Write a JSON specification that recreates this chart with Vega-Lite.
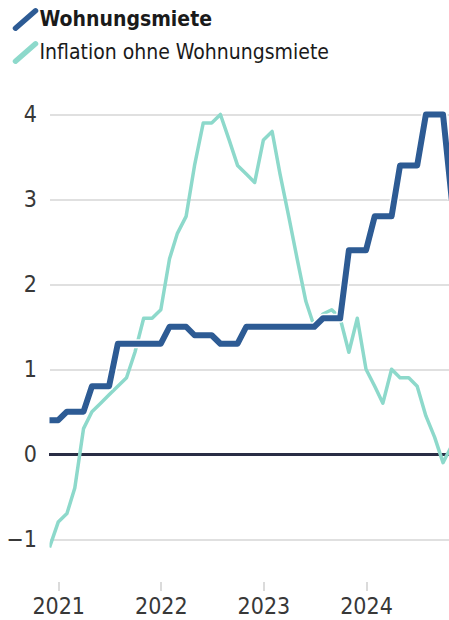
{
  "$schema": "https://vega.github.io/schema/vega-lite/v6.json",
  "width": 400,
  "height": 501,
  "autosize": {"type": "none"},
  "padding": {"left": 49.5, "top": 80.5, "right": 0, "bottom": 38.5},
  "background": "white",
  "config": {
    "view": {"stroke": null},
    "font": "DejaVu Sans Condensed, Roboto, sans-serif",
    "axis": {"labelFont": "DejaVu Sans Condensed, Roboto, sans-serif", "labelColor": "#383838", "domain": false}
  },
  "data": {
    "values": [
      {"date": "2020-12-01", "series": "Wohnungsmiete", "value": 0.4},
      {"date": "2021-01-01", "series": "Wohnungsmiete", "value": 0.4},
      {"date": "2021-02-01", "series": "Wohnungsmiete", "value": 0.5},
      {"date": "2021-03-01", "series": "Wohnungsmiete", "value": 0.5},
      {"date": "2021-04-01", "series": "Wohnungsmiete", "value": 0.5},
      {"date": "2021-05-01", "series": "Wohnungsmiete", "value": 0.8},
      {"date": "2021-06-01", "series": "Wohnungsmiete", "value": 0.8},
      {"date": "2021-07-01", "series": "Wohnungsmiete", "value": 0.8},
      {"date": "2021-08-01", "series": "Wohnungsmiete", "value": 1.3},
      {"date": "2021-09-01", "series": "Wohnungsmiete", "value": 1.3},
      {"date": "2021-10-01", "series": "Wohnungsmiete", "value": 1.3},
      {"date": "2021-11-01", "series": "Wohnungsmiete", "value": 1.3},
      {"date": "2021-12-01", "series": "Wohnungsmiete", "value": 1.3},
      {"date": "2022-01-01", "series": "Wohnungsmiete", "value": 1.3},
      {"date": "2022-02-01", "series": "Wohnungsmiete", "value": 1.5},
      {"date": "2022-03-01", "series": "Wohnungsmiete", "value": 1.5},
      {"date": "2022-04-01", "series": "Wohnungsmiete", "value": 1.5},
      {"date": "2022-05-01", "series": "Wohnungsmiete", "value": 1.4},
      {"date": "2022-06-01", "series": "Wohnungsmiete", "value": 1.4},
      {"date": "2022-07-01", "series": "Wohnungsmiete", "value": 1.4},
      {"date": "2022-08-01", "series": "Wohnungsmiete", "value": 1.3},
      {"date": "2022-09-01", "series": "Wohnungsmiete", "value": 1.3},
      {"date": "2022-10-01", "series": "Wohnungsmiete", "value": 1.3},
      {"date": "2022-11-01", "series": "Wohnungsmiete", "value": 1.5},
      {"date": "2022-12-01", "series": "Wohnungsmiete", "value": 1.5},
      {"date": "2023-01-01", "series": "Wohnungsmiete", "value": 1.5},
      {"date": "2023-02-01", "series": "Wohnungsmiete", "value": 1.5},
      {"date": "2023-03-01", "series": "Wohnungsmiete", "value": 1.5},
      {"date": "2023-04-01", "series": "Wohnungsmiete", "value": 1.5},
      {"date": "2023-05-01", "series": "Wohnungsmiete", "value": 1.5},
      {"date": "2023-06-01", "series": "Wohnungsmiete", "value": 1.5},
      {"date": "2023-07-01", "series": "Wohnungsmiete", "value": 1.5},
      {"date": "2023-08-01", "series": "Wohnungsmiete", "value": 1.6},
      {"date": "2023-09-01", "series": "Wohnungsmiete", "value": 1.6},
      {"date": "2023-10-01", "series": "Wohnungsmiete", "value": 1.6},
      {"date": "2023-11-01", "series": "Wohnungsmiete", "value": 2.4},
      {"date": "2023-12-01", "series": "Wohnungsmiete", "value": 2.4},
      {"date": "2024-01-01", "series": "Wohnungsmiete", "value": 2.4},
      {"date": "2024-02-01", "series": "Wohnungsmiete", "value": 2.8},
      {"date": "2024-03-01", "series": "Wohnungsmiete", "value": 2.8},
      {"date": "2024-04-01", "series": "Wohnungsmiete", "value": 2.8},
      {"date": "2024-05-01", "series": "Wohnungsmiete", "value": 3.4},
      {"date": "2024-06-01", "series": "Wohnungsmiete", "value": 3.4},
      {"date": "2024-07-01", "series": "Wohnungsmiete", "value": 3.4},
      {"date": "2024-08-01", "series": "Wohnungsmiete", "value": 4.0},
      {"date": "2024-09-01", "series": "Wohnungsmiete", "value": 4.0},
      {"date": "2024-10-01", "series": "Wohnungsmiete", "value": 4.0},
      {"date": "2024-11-01", "series": "Wohnungsmiete", "value": 3.0},
      {"date": "2020-12-01", "series": "Inflation ohne Wohnungsmiete", "value": -1.1},
      {"date": "2021-01-01", "series": "Inflation ohne Wohnungsmiete", "value": -0.8},
      {"date": "2021-02-01", "series": "Inflation ohne Wohnungsmiete", "value": -0.7},
      {"date": "2021-03-01", "series": "Inflation ohne Wohnungsmiete", "value": -0.4},
      {"date": "2021-04-01", "series": "Inflation ohne Wohnungsmiete", "value": 0.3},
      {"date": "2021-05-01", "series": "Inflation ohne Wohnungsmiete", "value": 0.5},
      {"date": "2021-06-01", "series": "Inflation ohne Wohnungsmiete", "value": 0.6},
      {"date": "2021-07-01", "series": "Inflation ohne Wohnungsmiete", "value": 0.7},
      {"date": "2021-08-01", "series": "Inflation ohne Wohnungsmiete", "value": 0.8},
      {"date": "2021-09-01", "series": "Inflation ohne Wohnungsmiete", "value": 0.9},
      {"date": "2021-10-01", "series": "Inflation ohne Wohnungsmiete", "value": 1.2},
      {"date": "2021-11-01", "series": "Inflation ohne Wohnungsmiete", "value": 1.6},
      {"date": "2021-12-01", "series": "Inflation ohne Wohnungsmiete", "value": 1.6},
      {"date": "2022-01-01", "series": "Inflation ohne Wohnungsmiete", "value": 1.7},
      {"date": "2022-02-01", "series": "Inflation ohne Wohnungsmiete", "value": 2.3},
      {"date": "2022-03-01", "series": "Inflation ohne Wohnungsmiete", "value": 2.6},
      {"date": "2022-04-01", "series": "Inflation ohne Wohnungsmiete", "value": 2.8},
      {"date": "2022-05-01", "series": "Inflation ohne Wohnungsmiete", "value": 3.4},
      {"date": "2022-06-01", "series": "Inflation ohne Wohnungsmiete", "value": 3.9},
      {"date": "2022-07-01", "series": "Inflation ohne Wohnungsmiete", "value": 3.9},
      {"date": "2022-08-01", "series": "Inflation ohne Wohnungsmiete", "value": 4.0},
      {"date": "2022-09-01", "series": "Inflation ohne Wohnungsmiete", "value": 3.7},
      {"date": "2022-10-01", "series": "Inflation ohne Wohnungsmiete", "value": 3.4},
      {"date": "2022-11-01", "series": "Inflation ohne Wohnungsmiete", "value": 3.3},
      {"date": "2022-12-01", "series": "Inflation ohne Wohnungsmiete", "value": 3.2},
      {"date": "2023-01-01", "series": "Inflation ohne Wohnungsmiete", "value": 3.7},
      {"date": "2023-02-01", "series": "Inflation ohne Wohnungsmiete", "value": 3.8},
      {"date": "2023-03-01", "series": "Inflation ohne Wohnungsmiete", "value": 3.3},
      {"date": "2023-04-01", "series": "Inflation ohne Wohnungsmiete", "value": 2.8},
      {"date": "2023-05-01", "series": "Inflation ohne Wohnungsmiete", "value": 2.3},
      {"date": "2023-06-01", "series": "Inflation ohne Wohnungsmiete", "value": 1.8},
      {"date": "2023-07-01", "series": "Inflation ohne Wohnungsmiete", "value": 1.5},
      {"date": "2023-08-01", "series": "Inflation ohne Wohnungsmiete", "value": 1.65},
      {"date": "2023-09-01", "series": "Inflation ohne Wohnungsmiete", "value": 1.7},
      {"date": "2023-10-01", "series": "Inflation ohne Wohnungsmiete", "value": 1.6},
      {"date": "2023-11-01", "series": "Inflation ohne Wohnungsmiete", "value": 1.2},
      {"date": "2023-12-01", "series": "Inflation ohne Wohnungsmiete", "value": 1.6},
      {"date": "2024-01-01", "series": "Inflation ohne Wohnungsmiete", "value": 1.0},
      {"date": "2024-02-01", "series": "Inflation ohne Wohnungsmiete", "value": 0.8},
      {"date": "2024-03-01", "series": "Inflation ohne Wohnungsmiete", "value": 0.6},
      {"date": "2024-04-01", "series": "Inflation ohne Wohnungsmiete", "value": 1.0},
      {"date": "2024-05-01", "series": "Inflation ohne Wohnungsmiete", "value": 0.9},
      {"date": "2024-06-01", "series": "Inflation ohne Wohnungsmiete", "value": 0.9},
      {"date": "2024-07-01", "series": "Inflation ohne Wohnungsmiete", "value": 0.8},
      {"date": "2024-08-01", "series": "Inflation ohne Wohnungsmiete", "value": 0.45},
      {"date": "2024-09-01", "series": "Inflation ohne Wohnungsmiete", "value": 0.2},
      {"date": "2024-10-01", "series": "Inflation ohne Wohnungsmiete", "value": -0.1},
      {"date": "2024-11-01", "series": "Inflation ohne Wohnungsmiete", "value": 0.1}
    ]
  },
  "encoding": {
    "x": {
      "field": "date",
      "type": "temporal",
      "scale": {"type": "utc", "domain": ["2020-12-01", "2024-10-24"]},
      "axis": {
        "title": null,
        "values": [
          {"year": 2021, "utc": true},
          {"year": 2022, "utc": true},
          {"year": 2023, "utc": true},
          {"year": 2024, "utc": true}
        ],
        "format": "%Y",
        "formatType": "utc",
        "grid": false,
        "ticks": true,
        "tickSize": 9,
        "tickColor": "#cfcfcf",
        "tickWidth": 1.5,
        "labelFontSize": 23,
        "labelPadding": 5,
        "labelFlush": false
      }
    },
    "y": {
      "field": "value",
      "type": "quantitative",
      "scale": {"domain": [-1.5, 4.4], "nice": false, "zero": false},
      "axis": {
        "title": null,
        "values": [-1, 0, 1, 2, 3, 4],
        "grid": true,
        "gridColor": "#d6d6d6",
        "gridWidth": 1.5,
        "ticks": false,
        "labelFontSize": 23,
        "labelPadding": 13
      }
    }
  },
  "layer": [
    {
      "mark": {"type": "rule", "color": "#2a2e45", "strokeWidth": 2},
      "encoding": {"x": null, "y": {"datum": 0}}
    },
    {
      "transform": [{"filter": "datum.series === 'Inflation ohne Wohnungsmiete'"}],
      "mark": {"type": "line", "strokeWidth": 3.5, "strokeJoin": "round", "clip": true},
      "encoding": {
        "color": {
          "field": "series",
          "type": "nominal",
          "scale": {
            "domain": ["Wohnungsmiete", "Inflation ohne Wohnungsmiete"],
            "range": ["#2d5b94", "#8dd9cb"]
          },
          "legend": {
            "title": null,
            "orient": "none",
            "legendX": -37,
            "legendY": -74,
            "padding": 0,
            "symbolType": "M-1,0.87L1,-0.87",
            "symbolSize": 400,
            "symbolStrokeWidth": 5.5,
            "labelFont": "DejaVu Sans Condensed, Roboto, sans-serif",
            "labelFontSize": 21,
            "labelColor": "#1a1a1a",
            "labelOffset": 1,
            "rowPadding": -10,
            "labelLimit": 400,
            "encode": {
              "labels": {
                "update": {
                  "fontWeight": [
                    {"test": "datum.value === 'Wohnungsmiete'", "value": "bold"},
                    {"value": "normal"}
                  ]
                }
              },
              "symbols": {"update": {"strokeCap": {"value": "round"}}}
            }
          }
        }
      }
    },
    {
      "transform": [{"filter": "datum.series === 'Wohnungsmiete'"}],
      "mark": {"type": "line", "strokeWidth": 9, "color": "white", "strokeJoin": "round", "clip": true},
      "encoding": {}
    },
    {
      "transform": [{"filter": "datum.series === 'Wohnungsmiete'"}],
      "mark": {"type": "line", "strokeWidth": 6, "strokeJoin": "round", "strokeCap": "round", "clip": true},
      "encoding": {"color": {"field": "series", "type": "nominal"}}
    }
  ]
}
